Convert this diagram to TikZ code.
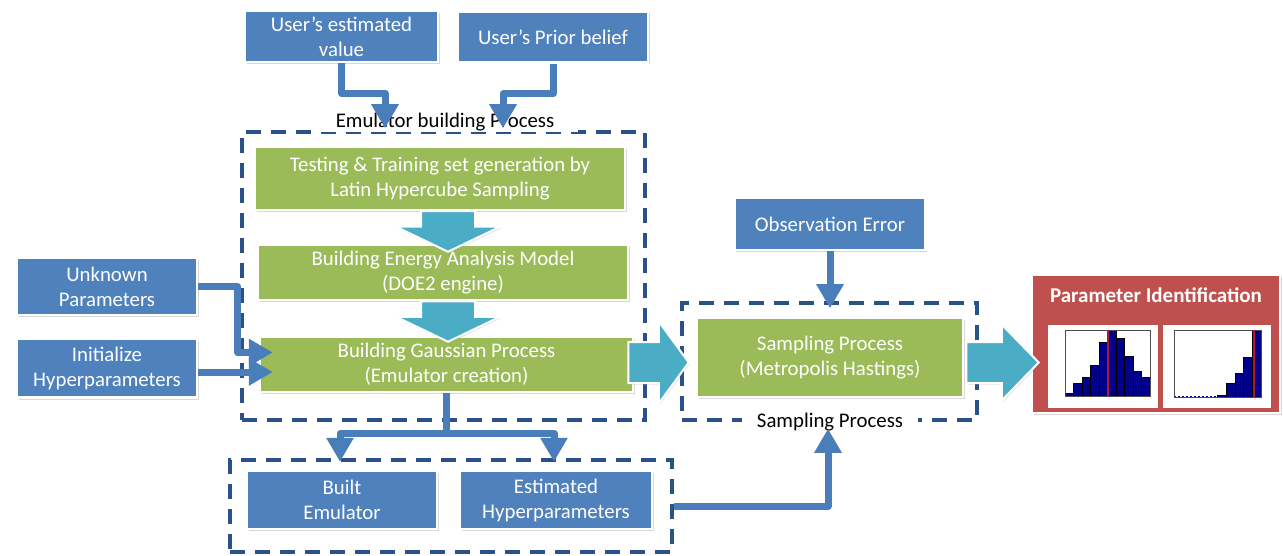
\documentclass[tikz,border=0pt]{standalone}
\usepackage{fontspec}
\setmainfont{Carlito}
\usetikzlibrary{calc,shadows,arrows.meta}
\definecolor{boxblue}{HTML}{4F81BD}
\definecolor{boxgreen}{HTML}{9BBB59}
\definecolor{boxred}{HTML}{C0504D}
\definecolor{flowteal}{HTML}{4BACC6}
\definecolor{dashblue}{HTML}{2A5189}
\definecolor{linkblue}{HTML}{4A7EBB}
\definecolor{histnavy}{HTML}{00008B}
\definecolor{markred}{HTML}{B4143C}

\begin{document}
\begin{tikzpicture}[x=1pt,y=-1pt,
  font=\fontsize{20.8}{25}\selectfont,
  card/.style={draw=white, line width=2.5pt, text=white, align=center, inner sep=2pt,
    drop shadow={shadow xshift=1.5pt, shadow yshift=-2pt, opacity=0.3}},
  bluecard/.style={card, fill=boxblue},
  greencard/.style={card, fill=boxgreen},
  groupbox/.style={draw=dashblue, line width=3.5pt, dash pattern=on 15pt off 10pt, inner sep=0pt},
  grouplabel/.style={fill=white, text=black, inner ysep=1pt},
  link/.style={draw=linkblue, line width=7pt, line join=round, -{Triangle[width=26pt,length=24pt]}},
  fatarrow/.style={fill=flowteal, draw=white, line width=2pt, line join=miter,
    drop shadow={shadow xshift=1pt, shadow yshift=-1.5pt, opacity=0.25}},
]
% canvas
\fill[white] (0,0) rectangle (1283,556);
\useasboundingbox (0,0) rectangle (1283,556);

% dashed process groups
\node[groupbox, minimum width=403, minimum height=288] (emubox) at (443.5,276) {};
\node[groupbox, minimum width=295, minimum height=117] (sampbox) at (829.5,361.5) {};
\node[groupbox, minimum width=442, minimum height=92] (botbox) at (451,506) {};
\node[grouplabel, inner xsep=24pt] (emulbl) at ($(emubox.north)+(1.5,-8)$) {Emulator building Process};
\node[grouplabel, inner xsep=15pt] (samplbl) at ($(sampbox.south)+(0.5,0)$) {Sampling Process};

% input cards
\node[bluecard, minimum width=193, minimum height=51] (est) at (341.5,36.5) {User’s estimated\\value};
\node[bluecard, minimum width=190, minimum height=51] (prior) at (553,37) {User’s Prior belief};
\node[bluecard, minimum width=180, minimum height=57] (unknown) at (107,286.5) {Unknown\\Parameters};
\node[bluecard, minimum width=180, minimum height=59] (init) at (107,368) {Initialize\\Hyperparameters};
\node[bluecard, minimum width=191, minimum height=52] (obs) at (830,224) {Observation Error};

% emulator steps
\node[greencard, minimum width=370, minimum height=63] (lhs) at (440,178.5) {Testing \& Training set generation by\\Latin Hypercube Sampling};
\node[greencard, minimum width=370, minimum height=55] (doe) at (443,272.5) {Building Energy Analysis Model\\(DOE2 engine)};
\node[greencard, minimum width=373, minimum height=55] (gp) at (446.5,364.5) {Building Gaussian Process\\(Emulator creation)};
\node[greencard, minimum width=266, minimum height=79] (samp) at (830,357.5) {Sampling Process\\(Metropolis Hastings)};

% emulator outputs
\node[bluecard, minimum width=190, minimum height=58] (built) at (342,500) {Built\\Emulator};
\node[bluecard, minimum width=192, minimum height=58] (esthyp) at (556,500) {Estimated\\Hyperparameters};

% result panel
\node[card, fill=boxred, minimum width=248, minimum height=138] (pid) at (1156,344) {};
\node[text=white, font=\fontsize{21}{25}\selectfont\bfseries] (pidtitle) at ($(pid.north)+(0,21)$) {Parameter Identification};

% histogram 1
\fill[white] (1048,325) rectangle (1158,408);
\foreach \h [count=\i from 0] in {0.05,0.19,0.28,0.47,0.82,1.0,0.875,0.6,0.37,0.28}
  \filldraw[fill=histnavy, draw=black, line width=0.3pt] ({1065+8.5*\i},396) rectangle ({1065+8.5*(\i+1)},{396-66*\h});
\draw[black!70, line width=0.4pt] (1065,330) rectangle (1150,396);
\draw[markred, line width=2pt] (1108,330) -- (1108,396);

% histogram 2
\fill[white] (1163,325) rectangle (1271,408);
\foreach \h [count=\i from 5] in {0.03,0.2,0.35,0.59,1.0}
  \filldraw[fill=histnavy, draw=black, line width=0.3pt] ({1174+8.7*\i},397) rectangle ({1174+8.7*(\i+1)},{397-67*\h});
\draw[histnavy, line width=0.6pt, dash pattern=on 2pt off 2pt] (1174,396) -- (1217,396);
\draw[black!70, line width=0.4pt] (1174,330) rectangle (1261,397);
\draw[markred, line width=2pt] (1254,330) -- (1254,397);

% connectors
\coordinate (tipA) at ($(emubox.north)+(-58.5,-2)$);
\coordinate (tipB) at ($(emubox.north)+(59.5,-2)$);
\coordinate (tipC) at ($(built.north)+(-2,-8)$);
\coordinate (tipD) at ($(esthyp.north)+(-2,-8)$);
\coordinate (tipE) at ($(sampbox.south)+(-1.5,7)$);
\coordinate (tipF) at ($(sampbox.north)+(0,7)$);

\draw[link] (est.south) -- ++(0,30) -| (tipA);
\draw[link] (prior.south) -- ++(0,30) -| (tipB);
\draw[link] (unknown.east) -| ($(gp.west)+(-21,-12)$) -- ($(gp.west)+(14,-12)$);
\draw[link] ($(init.east)+(0,4)$) -- ($(gp.west)+(14,7.5)$);
\draw[link] (gp.south) -- ++(0,40) -| (tipC);
\draw[link] (gp.south) -- ++(0,40) -| (tipD);
\draw[link] (botbox.east) -| (tipE);
\draw[link] (obs.south) -- (obs.south |- tipF);

% block arrows between steps
\coordinate (v1s) at ($(lhs.south)+(8,0)$);
\coordinate (v1t) at ($(v1s |- doe.north)+(0,8)$);
\draw[fatarrow] ($(v1s)+(-27,0)$) -- ($(v1t)+(-27,-25)$) -- ($(v1t)+(-52,-25)$) -- (v1t)
  -- ($(v1t)+(52,-25)$) -- ($(v1t)+(27,-25)$) -- ($(v1s)+(27,0)$) -- cycle;
\coordinate (v2s) at ($(doe.south)+(5,0)$);
\coordinate (v2t) at ($(v2s |- gp.north)+(0,6)$);
\draw[fatarrow] ($(v2s)+(-27,0)$) -- ($(v2t)+(-27,-25)$) -- ($(v2t)+(-52,-25)$) -- (v2t)
  -- ($(v2t)+(52,-25)$) -- ($(v2t)+(27,-25)$) -- ($(v2s)+(27,0)$) -- cycle;

\coordinate (h1s) at ($(gp.east)+(-6,-2)$);
\coordinate (h1t) at ($(samp.west |- h1s)+(-7,0)$);
\draw[fatarrow] ($(h1s)+(0,-20.5)$) -- ($(h1t)+(-30,-20.5)$) -- ($(h1t)+(-30,-41)$) -- (h1t)
  -- ($(h1t)+(-30,41)$) -- ($(h1t)+(-30,20.5)$) -- ($(h1s)+(0,20.5)$) -- cycle;
\coordinate (h2s) at ($(samp.east |- h1s)+(2,0)$);
\coordinate (h2t) at ($(pid.west |- h1s)+(8,0)$);
\draw[fatarrow] ($(h2s)+(0,-20.5)$) -- ($(h2t)+(-37,-20.5)$) -- ($(h2t)+(-37,-38)$) -- (h2t)
  -- ($(h2t)+(-37,38)$) -- ($(h2t)+(-37,20.5)$) -- ($(h2s)+(0,20.5)$) -- cycle;
\end{tikzpicture}
\end{document}
